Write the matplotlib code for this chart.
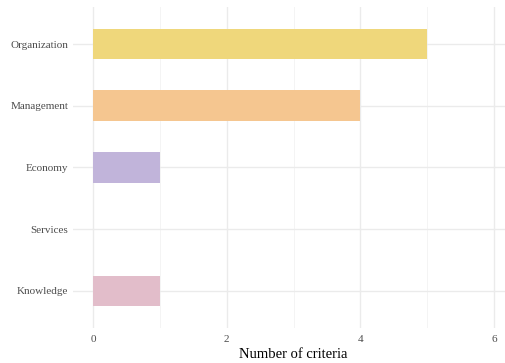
import matplotlib
matplotlib.use("Agg")
import matplotlib.pyplot as plt
from matplotlib.ticker import MultipleLocator

plt.rcParams['font.family'] = ['Liberation Serif', 'DejaVu Serif']

categories = ["Organization", "Management", "Economy", "Services", "Knowledge"]
counts = [5, 4, 1, 0, 1]
colors = ["#EFD77B", "#F5C690", "#C1B4DA", "#B3DDD0", "#E2BDCA"]
xticks = [0, 2, 4, 6]

fig = plt.figure(figsize=(5.05, 3.63), dpi=100)
ax = fig.add_axes([73 / 505, 35 / 363, 441 / 505, 321 / 363])

ypos = list(range(len(categories)))[::-1]
ax.barh(ypos, counts, height=0.5, color=colors, zorder=2)

ax.set_xlim(-0.3, 6.3)
ax.set_ylim(-0.6, len(categories) - 1 + 0.6)
ax.set_xticks(xticks)
ax.xaxis.set_minor_locator(MultipleLocator(1))
ax.set_yticks(ypos)
ax.set_yticklabels(categories)

ax.grid(True, which="major", color="#EBEBEB", linewidth=1.0, zorder=0)
ax.grid(True, which="minor", axis="x", color="#F2F2F2", linewidth=0.6, zorder=0)
ax.set_axisbelow(True)
for s in ax.spines.values():
    s.set_visible(False)
ax.tick_params(which="both", length=0)
ax.tick_params(axis="both", labelsize=8, labelcolor="#4D4D4D")
ax.tick_params(axis="y", pad=3.5)
ax.tick_params(axis="x", pad=5)
ax.set_xlabel("Number of criteria", fontsize=10.5, labelpad=3)

fig.savefig("out.png", dpi=100)
